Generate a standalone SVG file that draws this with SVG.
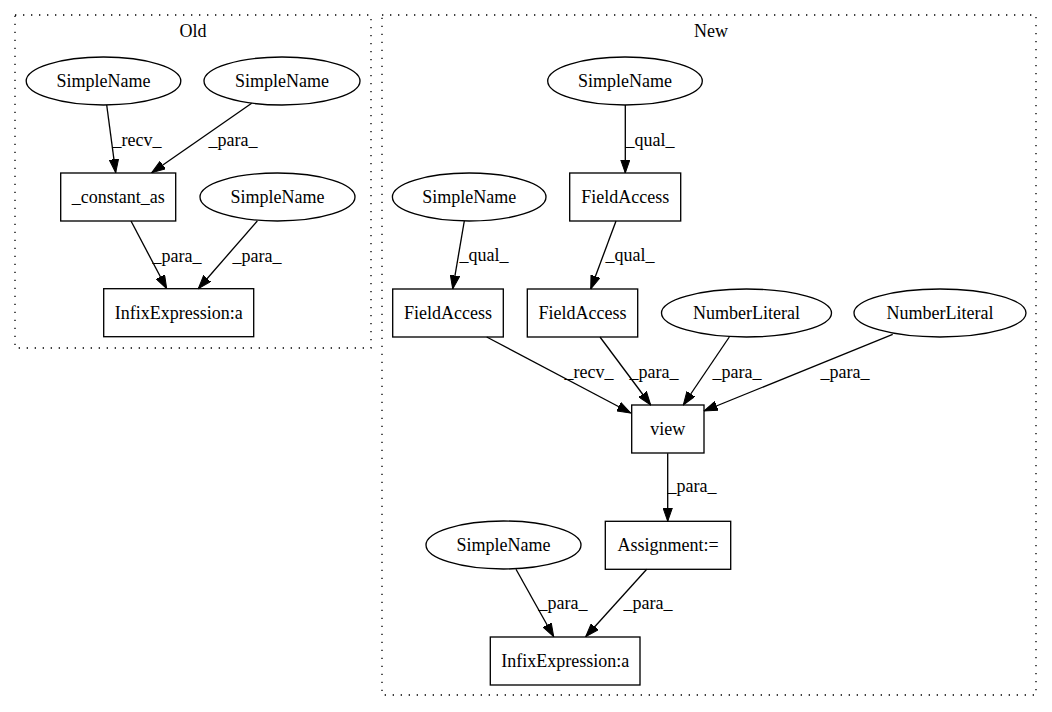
<svg xmlns="http://www.w3.org/2000/svg" width="1052" height="712" viewBox="0 0 1052 712">
<style>
text{font-family:'Liberation Serif','Times New Roman','DejaVu Serif',Times,serif;font-size:18px;fill:#000;text-anchor:middle}
.n{fill:none;stroke:#000;stroke-width:1.33}
.cl{fill:none;stroke:#000;stroke-width:1.33;stroke-dasharray:1.33,6.67}
.e{fill:none;stroke:#000;stroke-width:1.33;marker-end:url(#ah)}
</style>
<defs>
<marker id="ah" markerUnits="userSpaceOnUse" markerWidth="14" markerHeight="10" viewBox="0 0 14 10" refX="13.5" refY="5" orient="auto">
<path d="M0,0.3 L13.5,5 L0,9.7 z" fill="#000" stroke="#000" stroke-width="1"/>
</marker>
</defs>
<rect width="1052" height="712" fill="#fff"/>
<g id="cluster_old">
<rect class="cl" x="15" y="15" width="356" height="333"/>
<text x="193" y="37" font-family="Liberation Serif, serif">Old</text>
</g>
<g id="cluster_new">
<rect class="cl" x="382" y="15" width="654" height="680"/>
<text x="711" y="37" font-family="Liberation Serif, serif">New</text>
</g>
<g id="connectors" font-family="Liberation Serif, serif">
<line class="e" x1="106.7" y1="105" x2="115.7" y2="172.7"/>
<text x="137" y="146">_recv_</text>
<line class="e" x1="251.7" y1="103.3" x2="151.7" y2="172.7"/>
<text x="233" y="146">_para_</text>
<line class="e" x1="131" y1="221" x2="166.7" y2="288.7"/>
<text x="177" y="262">_para_</text>
<line class="e" x1="257.3" y1="221" x2="198.3" y2="288.7"/>
<text x="257" y="262">_para_</text>
<line class="e" x1="625.3" y1="105" x2="625.3" y2="173"/>
<text x="650" y="146">_qual_</text>
<line class="e" x1="464.3" y1="221" x2="452.7" y2="289"/>
<text x="484" y="261">_qual_</text>
<line class="e" x1="616" y1="221" x2="590.7" y2="289"/>
<text x="630" y="261">_qual_</text>
<line class="e" x1="486.7" y1="337" x2="630.7" y2="413"/>
<text x="589" y="378">_recv_</text>
<line class="e" x1="600" y1="337" x2="650.7" y2="405"/>
<text x="654" y="378">_para_</text>
<line class="e" x1="729.3" y1="337" x2="683.3" y2="405"/>
<text x="737" y="378">_para_</text>
<line class="e" x1="892.7" y1="334.3" x2="704" y2="411"/>
<text x="845" y="378">_para_</text>
<line class="e" x1="667.7" y1="453.3" x2="667.7" y2="521.3"/>
<text x="692" y="492">_para_</text>
<line class="e" x1="516" y1="569.3" x2="553.7" y2="636.7"/>
<text x="563" y="609">_para_</text>
<line class="e" x1="646.7" y1="569.3" x2="585.7" y2="636.7"/>
<text x="648" y="609">_para_</text>
</g>
<g id="old_simplename_1"><ellipse class="n" cx="103.5" cy="81" rx="77.3" ry="24"/><text x="103.5" y="87">SimpleName</text></g>
<g id="old_simplename_2"><ellipse class="n" cx="282" cy="81" rx="78" ry="24"/><text x="282" y="87">SimpleName</text></g>
<g id="old_constant_as"><rect class="n" x="60.7" y="173" width="115" height="48"/><text x="118.2" y="203">_constant_as</text></g>
<g id="old_simplename_3"><ellipse class="n" cx="277.5" cy="197" rx="77.5" ry="24"/><text x="277.5" y="203">SimpleName</text></g>
<g id="old_infix"><rect class="n" x="103.7" y="288.7" width="150" height="48"/><text x="178.7" y="318.7">InfixExpression:a</text></g>
<g id="new_simplename_1"><ellipse class="n" cx="625" cy="81" rx="77.3" ry="24"/><text x="625" y="87">SimpleName</text></g>
<g id="new_fieldaccess_1"><rect class="n" x="569.7" y="173" width="111" height="48"/><text x="625.2" y="203">FieldAccess</text></g>
<g id="new_simplename_2"><ellipse class="n" cx="469.2" cy="197" rx="76.8" ry="24"/><text x="469.2" y="203">SimpleName</text></g>
<g id="new_fieldaccess_2"><rect class="n" x="392.7" y="289" width="110.6" height="48"/><text x="448" y="319">FieldAccess</text></g>
<g id="new_fieldaccess_3"><rect class="n" x="527.3" y="289" width="110.4" height="48"/><text x="582.5" y="319">FieldAccess</text></g>
<g id="new_numberliteral_1"><ellipse class="n" cx="746.5" cy="313" rx="85" ry="24"/><text x="746.5" y="319">NumberLiteral</text></g>
<g id="new_numberliteral_2"><ellipse class="n" cx="940" cy="313" rx="86" ry="24"/><text x="940" y="319">NumberLiteral</text></g>
<g id="new_view"><rect class="n" x="631.7" y="405" width="72.3" height="48"/><text x="667.8" y="435">view</text></g>
<g id="new_assignment"><rect class="n" x="605.3" y="521.3" width="125.4" height="48"/><text x="668" y="551.3">Assignment:=</text></g>
<g id="new_simplename_3"><ellipse class="n" cx="503.5" cy="545" rx="77.5" ry="24"/><text x="503.5" y="551">SimpleName</text></g>
<g id="new_infix"><rect class="n" x="490.3" y="637" width="149.7" height="48"/><text x="565.2" y="667">InfixExpression:a</text></g>
</svg>
